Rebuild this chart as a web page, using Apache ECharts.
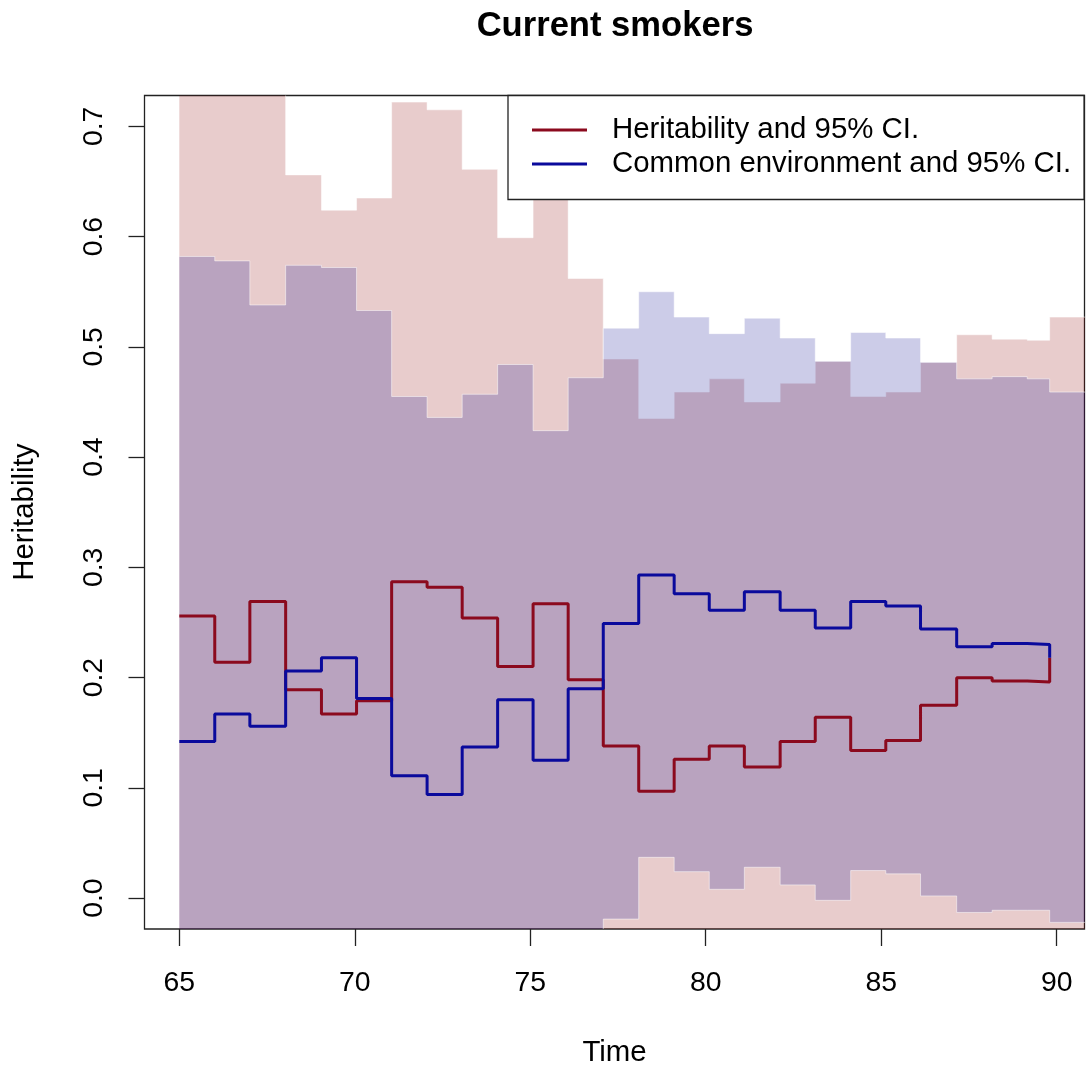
<!DOCTYPE html>
<html><head><meta charset="utf-8">
<script src="https://cdn.jsdelivr.net/npm/echarts@6/dist/echarts.min.js"></script>
<style>html,body{margin:0;padding:0;background:#fff}#c{width:1088px;height:1072px}</style>
</head><body><div id="c"></div>
<script>
// Step start positions (age, years)
const ages = [65, 66.01, 67.01, 68.03, 69.05, 70.05, 71.05, 72.06, 73.06, 74.07, 75.08, 76.08, 77.08,
  78.09, 79.10, 80.10, 81.10, 82.12, 83.12, 84.13, 85.13, 86.12, 87.15, 88.16, 89.16, 89.80];
// Heritability estimate
const heritability = [0.256, 0.214, 0.269, 0.189, 0.167, 0.179, 0.287, 0.282, 0.254, 0.210, 0.267, 0.198, 0.138,
  0.097, 0.126, 0.138, 0.119, 0.142, 0.164, 0.134, 0.143, 0.175, 0.200, 0.197, 0.196, 0.218];
// Heritability 95% CI
const herUpper = [0.76, 0.76, 0.76, 0.656, 0.624, 0.635, 0.722, 0.715, 0.661, 0.599, 0.650, 0.562, 0.489,
  0.435, 0.459, 0.471, 0.450, 0.467, 0.487, 0.455, 0.459, 0.486, 0.511, 0.507, 0.506, 0.527];
const herLower = [-0.06, -0.06, -0.06, -0.06, -0.06, -0.06, -0.06, -0.06, -0.06, -0.06, -0.06, -0.06, -0.06,
  -0.06, -0.06, -0.06, -0.06, -0.06, -0.06, -0.06, -0.06, -0.06, -0.06, -0.06, -0.06, -0.06];
// Common environment estimate
const commonEnv = [0.142, 0.167, 0.156, 0.206, 0.218, 0.181, 0.111, 0.094, 0.137, 0.180, 0.125, 0.190, 0.249,
  0.293, 0.276, 0.261, 0.278, 0.261, 0.245, 0.269, 0.265, 0.244, 0.228, 0.231, 0.230, 0.218];
// Common environment 95% CI
const ceUpper = [0.582, 0.578, 0.538, 0.574, 0.572, 0.533, 0.455, 0.436, 0.457, 0.484, 0.424, 0.472, 0.517,
  0.550, 0.527, 0.512, 0.526, 0.508, 0.487, 0.513, 0.508, 0.486, 0.471, 0.473, 0.471, 0.459];
const ceLower = [-0.06, -0.06, -0.06, -0.06, -0.06, -0.06, -0.06, -0.06, -0.06, -0.06, -0.06, -0.06, -0.019,
  0.037, 0.024, 0.008, 0.028, 0.012, -0.002, 0.025, 0.022, 0.002, -0.013, -0.011, -0.011, -0.022];
const bandEndAge = 91.5;
const xTicks = [65, 70, 75, 80, 85, 90];
const yTicks = [0, 0.1, 0.2, 0.3, 0.4, 0.5, 0.6, 0.7];
const yLim = [0, 0.7];

const FONT = '"Liberation Sans", Arial, Helvetica, sans-serif';
const FS = 29.4;
const TFS = 28.4;
const xr = ages[ages.length - 1] - ages[0];
const xMin = ages[0] - 0.04 * xr, xMax = ages[ages.length - 1] + 0.04 * xr;
const yr = yLim[1] - yLim[0];
const yMin = yLim[0] - 0.04 * yr, yMax = yLim[1] + 0.04 * yr;

const bandAges = ages.concat([bandEndAge]);
function bandSeries(lower, upper, fill) {
  return {
    type: 'custom', silent: true, clip: true, z: 1,
    data: [[ages[0], upper[0]]],
    renderItem: function (params, api) {
      const n = upper.length;
      const top = [], bot = [];
      for (let i = 0; i < n; i++) {
        top.push(api.coord([bandAges[i], upper[i]]));
        top.push(api.coord([bandAges[i + 1], upper[i]]));
        bot.push(api.coord([bandAges[i], lower[i]]));
        bot.push(api.coord([bandAges[i + 1], lower[i]]));
      }
      const poly = top.concat(bot.slice().reverse());
      const edge = { fill: null, stroke: 'rgba(255,255,255,0.5)', lineWidth: 1 };
      return { type: 'group', children: [
        { type: 'polygon', shape: { points: poly }, style: { fill: fill } },
        { type: 'polyline', shape: { points: top }, style: edge },
        { type: 'polyline', shape: { points: bot }, style: edge }
      ] };
    }
  };
}

const chart = echarts.init(document.getElementById('c'), null, { renderer: 'canvas' });
chart.setOption({
  animation: false,
  backgroundColor: '#fff',
  title: {
    text: 'Current smokers', left: 615, top: 9, textAlign: 'center', padding: 0,
    textStyle: { fontFamily: FONT, fontSize: 34.6, fontWeight: 'bold', color: '#000' }
  },
  grid: { left: 144.5, right: 3.5, top: 95.5, bottom: 141.5, show: true,
    borderColor: '#222', borderWidth: 1.3, backgroundColor: 'transparent' },
  legend: {
    orient: 'vertical', left: 508, top: 95.5, padding: [20, 13, 21, 24], itemGap: 5,
    itemWidth: 55, itemHeight: 3, backgroundColor: '#fff', borderColor: '#222', borderWidth: 1.3,
    textStyle: { fontFamily: FONT, fontSize: FS, color: '#000', padding: [0, 0, 0, 20] },
    data: [{ name: 'Heritability and 95% CI.', icon: 'rect' }, { name: 'Common environment and 95% CI.', icon: 'rect' }]
  },
  xAxis: {
    type: 'value', min: xMin, max: xMax,
    axisLine: { show: false, onZero: false },
    axisTick: { show: true, customValues: xTicks, length: 17, lineStyle: { color: '#222', width: 1.3 } },
    axisLabel: { customValues: xTicks, margin: 40, fontFamily: FONT, fontSize: TFS, color: '#000' },
    splitLine: { show: false },
    name: 'Time', nameLocation: 'middle', nameGap: 109,
    nameTextStyle: { fontFamily: FONT, fontSize: FS, color: '#000' }
  },
  yAxis: {
    type: 'value', min: yMin, max: yMax,
    axisLine: { show: false, onZero: false },
    axisTick: { show: true, customValues: yTicks, length: 16, lineStyle: { color: '#222', width: 1.3 } },
    axisLabel: { customValues: yTicks, rotate: 90, margin: 36, fontFamily: FONT, fontSize: TFS, color: '#000',
      formatter: v => v.toFixed(1) },
    splitLine: { show: false },
    name: 'Heritability', nameLocation: 'middle', nameGap: 105, nameRotate: 90,
    nameTextStyle: { fontFamily: FONT, fontSize: FS, color: '#000' }
  },
  series: [
    bandSeries(herLower, herUpper, 'rgba(139,0,0,0.2)'),
    bandSeries(ceLower, ceUpper, 'rgba(0,0,139,0.2)'),
    { type: 'line', name: 'Heritability and 95% CI.', step: 'end', symbol: 'none', z: 3,
      data: ages.map((a, i) => [a, heritability[i]]), lineStyle: { color: '#8B0A1E', width: 3 }, itemStyle: { color: '#8B0A1E' } },
    { type: 'line', name: 'Common environment and 95% CI.', step: 'end', symbol: 'none', z: 3,
      data: ages.map((a, i) => [a, commonEnv[i]]), lineStyle: { color: '#0A0A9C', width: 3 }, itemStyle: { color: '#0A0A9C' } }
  ]
});
</script></body></html>
